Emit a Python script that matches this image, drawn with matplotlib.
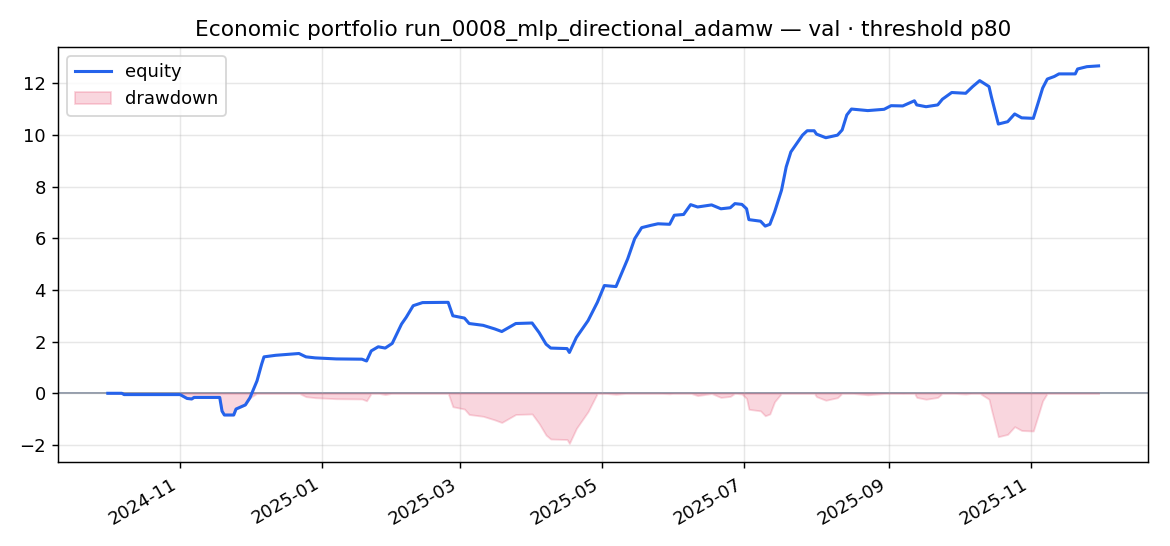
#!/usr/bin/env python3
"""Equity curve with drawdown for the economic portfolio (val, threshold p80)."""

import matplotlib
matplotlib.use('Agg')
import matplotlib.pyplot as plt
import matplotlib.dates as mdates
import numpy as np
import pandas as pd

# Equity values
dates = [
    '2024-10-01', '2024-10-07', '2024-10-08', '2024-11-01', '2024-11-04', '2024-11-06',
    '2024-11-07', '2024-11-18', '2024-11-19', '2024-11-20', '2024-11-24', '2024-11-25',
    '2024-11-27', '2024-11-29', '2024-12-01', '2024-12-04', '2024-12-06', '2024-12-07',
    '2024-12-12', '2024-12-22', '2024-12-25', '2024-12-29', '2025-01-07', '2025-01-18',
    '2025-01-20', '2025-01-22', '2025-01-25', '2025-01-28', '2025-01-31', '2025-02-04',
    '2025-02-06', '2025-02-09', '2025-02-13', '2025-02-24', '2025-02-26', '2025-03-03',
    '2025-03-05', '2025-03-11', '2025-03-16', '2025-03-19', '2025-03-25', '2025-04-01',
    '2025-04-04', '2025-04-07', '2025-04-09', '2025-04-16', '2025-04-17', '2025-04-20',
    '2025-04-25', '2025-04-29', '2025-05-02', '2025-05-07', '2025-05-12', '2025-05-15',
    '2025-05-18', '2025-05-22', '2025-05-25', '2025-05-30', '2025-06-01', '2025-06-05',
    '2025-06-08', '2025-06-11', '2025-06-17', '2025-06-21', '2025-06-25', '2025-06-27',
    '2025-06-30', '2025-07-02', '2025-07-03', '2025-07-08', '2025-07-10', '2025-07-12',
    '2025-07-14', '2025-07-17', '2025-07-19', '2025-07-21', '2025-07-22', '2025-07-26',
    '2025-07-28', '2025-07-31', '2025-08-01', '2025-08-05', '2025-08-10', '2025-08-12',
    '2025-08-14', '2025-08-16', '2025-08-23', '2025-08-30', '2025-09-02', '2025-09-07',
    '2025-09-12', '2025-09-13', '2025-09-17', '2025-09-22', '2025-09-24', '2025-09-28',
    '2025-10-04', '2025-10-07', '2025-10-10', '2025-10-14', '2025-10-15', '2025-10-18',
    '2025-10-22', '2025-10-25', '2025-10-28', '2025-11-02', '2025-11-04', '2025-11-06',
    '2025-11-08', '2025-11-11', '2025-11-13', '2025-11-20', '2025-11-21', '2025-11-25',
    '2025-11-30',
]
equity = [
    0.00, 0.00, -0.05, -0.05, -0.20, -0.22,
    -0.16, -0.16, -0.69, -0.84, -0.84, -0.61,
    -0.53, -0.45, -0.17, 0.48, 1.13, 1.41,
    1.47, 1.54, 1.41, 1.37, 1.33, 1.32,
    1.25, 1.64, 1.80, 1.75, 1.93, 2.68,
    2.94, 3.39, 3.51, 3.52, 3.00, 2.91,
    2.70, 2.63, 2.49, 2.39, 2.70, 2.72,
    2.35, 1.90, 1.75, 1.73, 1.58, 2.16,
    2.81, 3.52, 4.17, 4.13, 5.20, 5.98,
    6.41, 6.50, 6.56, 6.54, 6.89, 6.92,
    7.30, 7.21, 7.29, 7.14, 7.18, 7.34,
    7.31, 7.14, 6.72, 6.66, 6.47, 6.54,
    7.01, 7.86, 8.76, 9.34, 9.47, 9.99,
    10.16, 10.16, 10.03, 9.89, 9.99, 10.19,
    10.77, 11.00, 10.94, 10.99, 11.13, 11.12,
    11.32, 11.16, 11.09, 11.16, 11.38, 11.64,
    11.61, 11.87, 12.10, 11.87, 11.48, 10.42,
    10.51, 10.81, 10.66, 10.64, 11.22, 11.81,
    12.16, 12.26, 12.36, 12.36, 12.55, 12.64,
    12.67,
]

t = pd.to_datetime(dates)
eq = np.array(equity)
drawdown = eq - np.maximum.accumulate(eq)

fig = plt.figure(figsize=(9, 4.2), dpi=130)
ax = fig.add_axes([0.0498, 0.1533, 0.9315, 0.7606])

ax.plot(t, eq, color='#2563eb', lw=1.7, label='equity', zorder=3)
ax.fill_between(t, drawdown, 0, color='#e11d48', alpha=0.18, label='drawdown', zorder=2)
ax.axhline(0, color='#8a94a6', lw=1.0, zorder=1)

ax.set_title('Economic portfolio run_0008_mlp_directional_adamw — val · threshold p80', fontsize=12)
ax.grid(True, alpha=0.3)
ax.legend(loc='upper left')

ax.xaxis.set_major_locator(mdates.MonthLocator(bymonth=[1, 3, 5, 7, 9, 11]))
ax.xaxis.set_major_formatter(mdates.DateFormatter('%Y-%m'))
for lbl in ax.get_xticklabels():
    lbl.set_rotation(30)
    lbl.set_ha('right')

fig.savefig('out.png', dpi=130)
print("Saved out.png")
